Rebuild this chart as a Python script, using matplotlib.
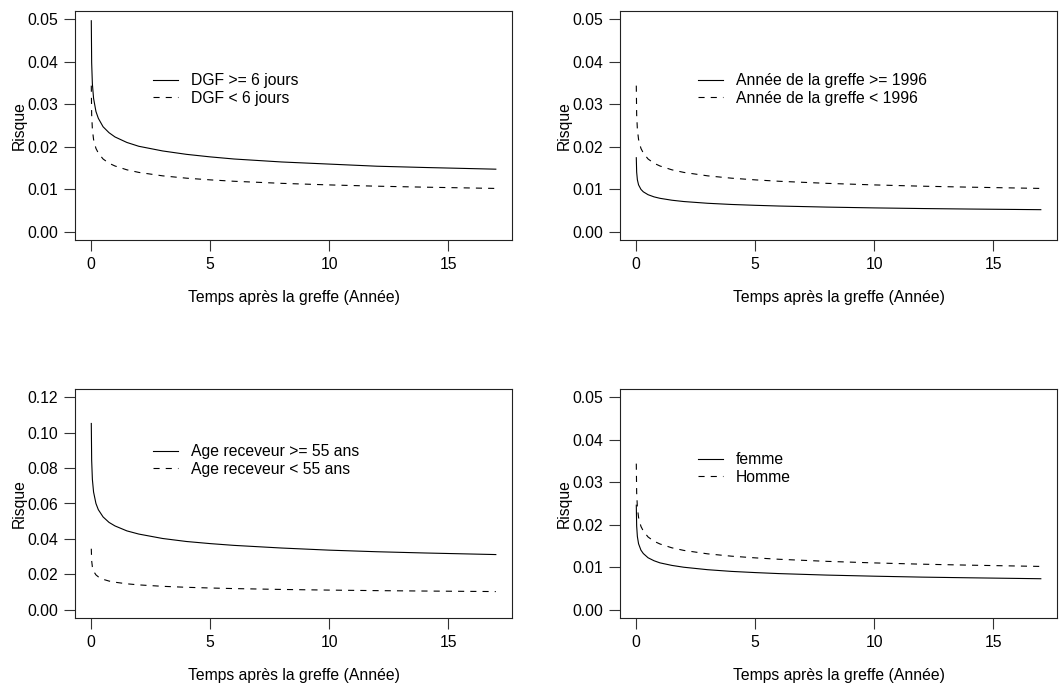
import numpy as np
import matplotlib
matplotlib.use("Agg")
import matplotlib.pyplot as plt

plt.rcParams["font.family"] = ["Liberation Sans", "DejaVu Sans"]
plt.rcParams["font.size"] = 11.3

# Time grid (years after transplant)
temps = [0.0045, 0.02, 0.05, 0.1, 0.2, 0.3, 0.5, 0.75, 1, 1.5, 2, 3, 4, 5, 6, 8, 10, 12, 14, 17]

# Reference hazard (dashed curve in every panel)
risque_ref = [0.0344, 0.0276, 0.0241, 0.0217, 0.0196, 0.0185, 0.0171, 0.0161, 0.01545, 0.01455,
              0.01394, 0.01313, 0.01258, 0.01218, 0.01185, 0.01136, 0.01099, 0.01069, 0.01046, 0.01016]

# Hazards for the second group of each covariate
risque_dgf = [0.0497, 0.0398, 0.0348, 0.0314, 0.0283, 0.0267, 0.0247, 0.0233, 0.0223, 0.0210,
              0.0201, 0.0190, 0.0182, 0.0176, 0.0171, 0.0164, 0.0159, 0.0154, 0.0151, 0.0147]
risque_annee = [0.0174, 0.0140, 0.0122, 0.0110, 0.00994, 0.00936, 0.00868, 0.00817, 0.00783, 0.00738,
                0.00707, 0.00666, 0.00638, 0.00618, 0.00601, 0.00576, 0.00557, 0.00542, 0.00530, 0.00515]
risque_age = [0.1053, 0.0845, 0.0737, 0.0665, 0.0600, 0.0565, 0.0524, 0.0493, 0.0473, 0.0445,
              0.0427, 0.0402, 0.0385, 0.0373, 0.0363, 0.0348, 0.0336, 0.0327, 0.0320, 0.0311]
risque_femme = [0.0246, 0.0197, 0.0172, 0.0155, 0.0140, 0.0132, 0.0122, 0.0115, 0.0110, 0.0104,
                0.00997, 0.00939, 0.00899, 0.00871, 0.00847, 0.00812, 0.00786, 0.00764, 0.00748, 0.00726]

labels_dgf = ["DGF >= 6 jours", "DGF < 6 jours"]
labels_annee = ["Année de la greffe >= 1996", "Année de la greffe < 1996"]
labels_age = ["Age receveur >= 55 ans", "Age receveur < 55 ans"]
labels_sexe = ["femme", "Homme"]

W, H = 1059, 683
fig = plt.figure(figsize=(W / 100, H / 100), dpi=100)


def panel(x0, y0, serie, labels, ymax, ystep, leg_top):
    ax = fig.add_axes([x0 / W, 1 - (y0 + 229) / H, 437 / W, 229 / H])
    ax.plot(temps, serie, color="black", lw=0.8, label=labels[0])
    ax.plot(temps, risque_ref, color="black", lw=0.8, ls=(0, (5.5, 5.5)), label=labels[1])
    ax.set_xlim(-0.68, 17.68)
    ax.set_ylim(-0.04 * ymax, 1.04 * ymax)
    ax.set_xticks([0, 5, 10, 15])
    yt = np.arange(0, ymax + ystep / 2, ystep)
    ax.set_yticks(yt)
    ax.set_yticklabels([f"{v:.2f}" for v in yt])
    ax.tick_params(direction="out", length=8, width=0.8, color="#333333")
    ax.tick_params(axis="x", pad=4)
    ax.tick_params(axis="y", pad=4)
    for s in ax.spines.values():
        s.set_linewidth(0.8)
        s.set_color("#222222")
    ax.set_xlabel("Temps après la greffe (Année)", labelpad=13.5)
    ax.set_ylabel("Risque", labelpad=0.5)
    ax.legend(loc="upper left", bbox_to_anchor=(0.178, leg_top), frameon=False,
              borderpad=0, borderaxespad=0, handlelength=1.6, handletextpad=0.85,
              labelspacing=0.15)
    return ax


panel(75, 11, risque_dgf, labels_dgf, 0.05, 0.01, 0.728)
panel(620, 11, risque_annee, labels_annee, 0.05, 0.01, 0.728)
panel(75, 389, risque_age, labels_age, 0.12, 0.02, 0.758)
panel(620, 389, risque_femme, labels_sexe, 0.05, 0.01, 0.724)

fig.savefig("out.png", dpi=100)
